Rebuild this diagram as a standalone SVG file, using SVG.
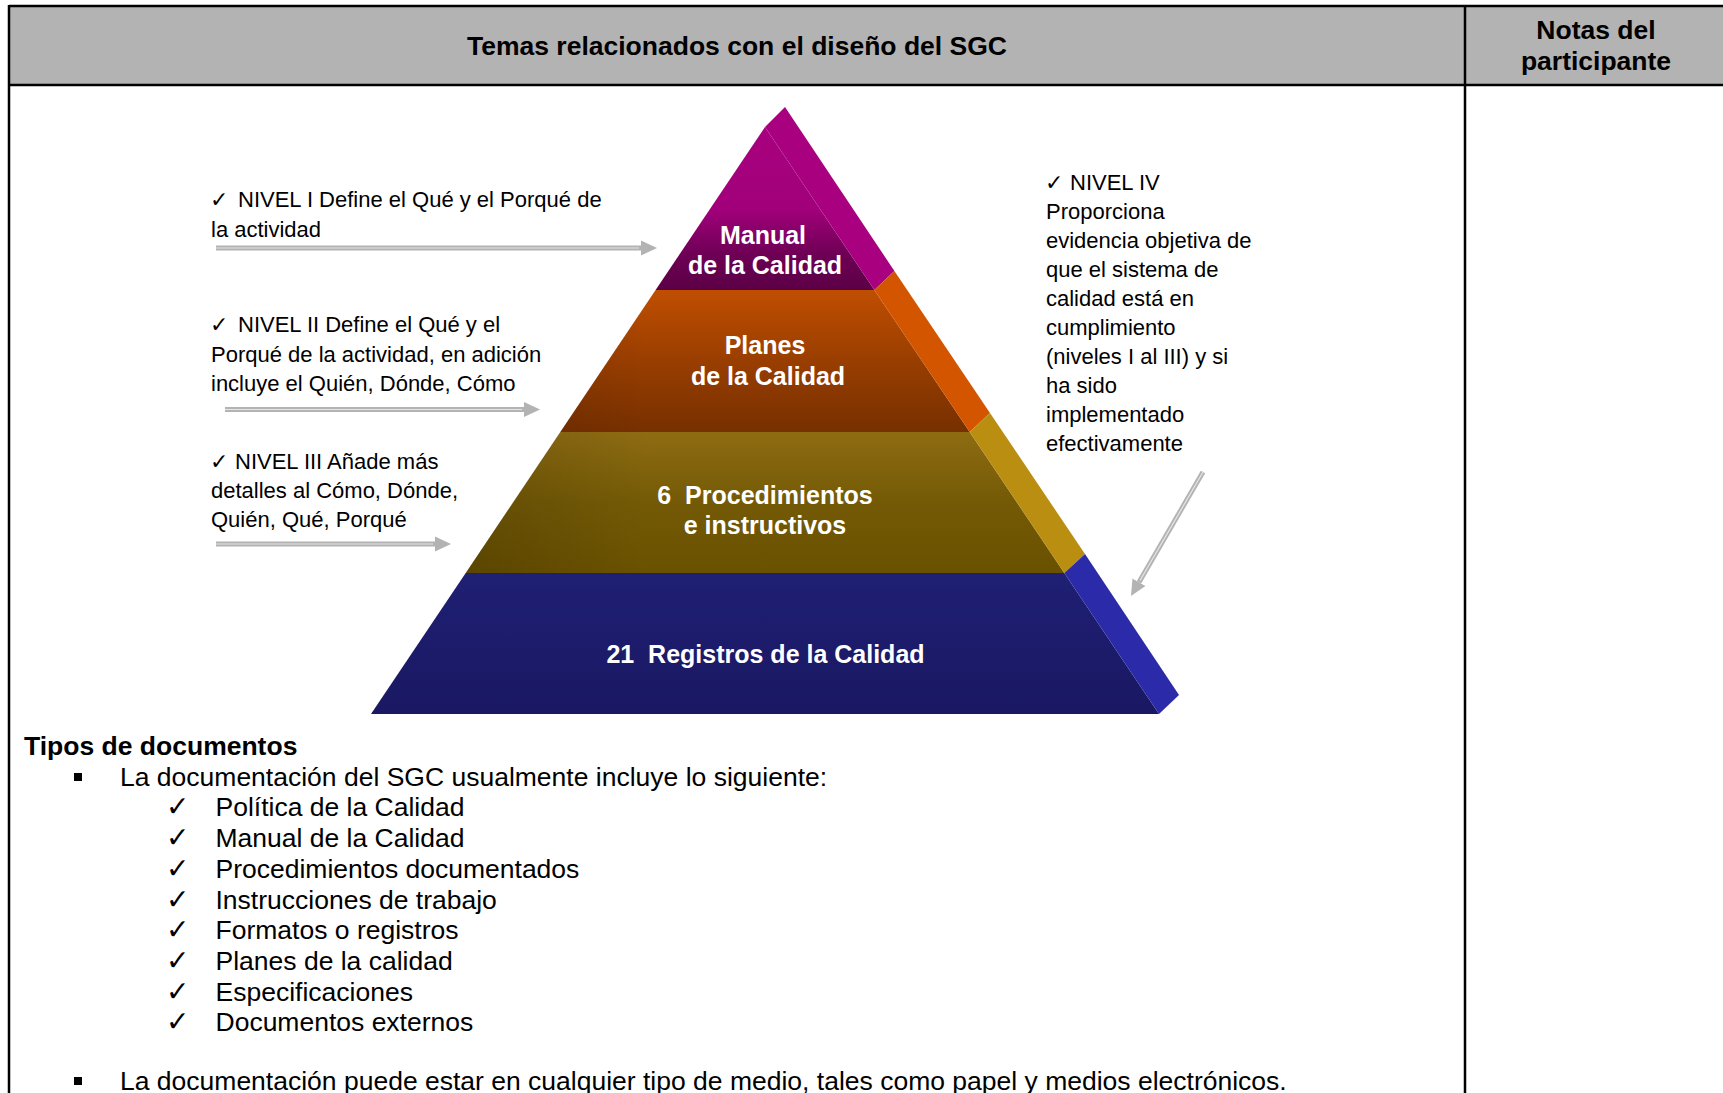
<svg xmlns="http://www.w3.org/2000/svg" width="1723" height="1093" viewBox="0 0 1723 1093">
<style>
.hd{font-family:"Liberation Sans",Arial,sans-serif;font-weight:bold;font-size:26.5px;fill:#000;text-anchor:middle}
.pt{font-family:"Liberation Sans",Arial,sans-serif;font-weight:bold;font-size:25px;fill:#fff;text-anchor:middle;white-space:pre}
.nt{font-family:"Liberation Sans",Arial,sans-serif;font-size:22px;fill:#000}
.ck{font-family:"DejaVu Sans",sans-serif;font-size:22px;fill:#000}
.ck2{font-family:"DejaVu Sans",sans-serif;font-size:28px;fill:#000}
.bt{font-family:"Liberation Sans",Arial,sans-serif;font-size:26.5px;fill:#000}
.bb{font-family:"Liberation Sans",Arial,sans-serif;font-size:26.5px;font-weight:bold;fill:#000}
.shaft{stroke:#b3b3b3;stroke-width:5;fill:none}
.inner{stroke:#e6e6e6;stroke-width:1.2;fill:none}
.ln{stroke:#000;stroke-width:2.5;fill:none}
</style>
<defs>
<marker id="ah" markerUnits="userSpaceOnUse" markerWidth="16" markerHeight="16" viewBox="0 0 16 16" refX="0" refY="8" orient="auto">
<path d="M0,0.5 L16,8 L0,15.5 z" fill="#b3b3b3"/>
</marker>
<linearGradient id="gP" x1="0" y1="127" x2="0" y2="290" gradientUnits="userSpaceOnUse">
<stop offset="0" stop-color="#a8007f"/><stop offset="0.5" stop-color="#a2007b"/><stop offset="0.78" stop-color="#6e0055"/><stop offset="1" stop-color="#5c0046"/>
</linearGradient>
<linearGradient id="gO" x1="0" y1="290" x2="0" y2="432" gradientUnits="userSpaceOnUse">
<stop offset="0" stop-color="#c04e00"/><stop offset="0.5" stop-color="#993e00"/><stop offset="1" stop-color="#773000"/>
</linearGradient>
<linearGradient id="gG" x1="0" y1="432" x2="0" y2="573" gradientUnits="userSpaceOnUse">
<stop offset="0" stop-color="#8e6c12"/><stop offset="0.5" stop-color="#745a06"/><stop offset="1" stop-color="#6a5100"/>
</linearGradient>
<linearGradient id="gB" x1="0" y1="573" x2="0" y2="714" gradientUnits="userSpaceOnUse">
<stop offset="0" stop-color="#1f1f74"/><stop offset="1" stop-color="#1a1862"/>
</linearGradient>
<linearGradient id="shade" x1="371" y1="0" x2="1159" y2="0" gradientUnits="userSpaceOnUse">
<stop offset="0" stop-color="#000" stop-opacity="0.22"/><stop offset="0.35" stop-color="#000" stop-opacity="0"/><stop offset="1" stop-color="#000" stop-opacity="0"/>
</linearGradient>
</defs>
<rect width="1723" height="1093" fill="#fff"/>
<g id="table">
<rect x="9" y="6" width="1720" height="79" fill="#b3b3b3"/>
<line class="ln" x1="9" y1="6" x2="1723" y2="6"/>
<line class="ln" x1="9" y1="85" x2="1723" y2="85"/>
<line class="ln" x1="9" y1="5" x2="9" y2="1093"/>
<line class="ln" x1="1465" y1="5" x2="1465" y2="1093"/>
<text class="hd" x="737" y="55">Temas relacionados con el diseño del SGC</text>
<text class="hd" x="1596" y="39">Notas del</text>
<text class="hd" x="1596" y="70">participante</text>
</g>
<g id="level1">
<polygon points="765,127 874.4,290 655.6,290" fill="url(#gP)"/>
<polygon points="765,127 785,107 894.4,271 874.4,290" fill="#a8007f"/>
<text class="pt" x="763" y="244">Manual</text>
<text class="pt" x="765" y="274">de la Calidad</text>
</g>
<g id="level2">
<polygon points="655.6,290 874.4,290 969.7,432 560.3,432" fill="url(#gO)"/>
<polygon points="655.6,290 874.4,290 969.7,432 560.3,432" fill="url(#shade)"/>
<polygon points="874.4,290 894.4,271 990,413 969.7,432" fill="#d45500"/>
<text class="pt" x="765" y="354">Planes</text>
<text class="pt" x="768" y="385">de la Calidad</text>
</g>
<g id="level3">
<polygon points="560.3,432 969.7,432 1064.3,573 465.7,573" fill="url(#gG)"/>
<polygon points="560.3,432 969.7,432 1064.3,573 465.7,573" fill="url(#shade)"/>
<polygon points="969.7,432 990,413 1085,554 1064.3,573" fill="#ba8e10"/>
<text class="pt" x="765" y="503.5" xml:space="preserve">6  Procedimientos</text>
<text class="pt" x="765" y="534">e instructivos</text>
</g>
<g id="level4">
<polygon points="465.7,573 1064.3,573 1159,714 371,714" fill="url(#gB)"/>
<polygon points="1064.3,573 1085,554 1179,695 1159,714" fill="#2b2baa"/>
<text class="pt" x="765.5" y="663" xml:space="preserve">21  Registros de la Calidad</text>
</g>
<g id="note1">
<text class="ck" x="210" y="207">✓</text>
<text class="nt" x="238" y="207">NIVEL I Define el Qué y el Porqué de</text>
<text class="nt" x="211" y="236.5">la actividad</text>
</g>
<g id="note2">
<text class="ck" x="210" y="332">✓</text>
<text class="nt" x="238" y="332">NIVEL II Define el Qué y el</text>
<text class="nt" x="211" y="362">Porqué de la actividad, en adición</text>
<text class="nt" x="211" y="391">incluye el Quién, Dónde, Cómo</text>
</g>
<g id="note3">
<text class="ck" x="210" y="468.5">✓</text>
<text class="nt" x="235" y="468.5">NIVEL III Añade más</text>
<text class="nt" x="211" y="497.5">detalles al Cómo, Dónde,</text>
<text class="nt" x="211" y="526.5">Quién, Qué, Porqué</text>
</g>
<g id="note4">
<text class="ck" x="1045" y="190">✓</text>
<text class="nt" x="1070" y="190">NIVEL IV</text>
<text class="nt" x="1046" y="219">Proporciona</text>
<text class="nt" x="1046" y="248">evidencia objetiva de</text>
<text class="nt" x="1046" y="277">que el sistema de</text>
<text class="nt" x="1046" y="306">calidad está en</text>
<text class="nt" x="1046" y="335">cumplimiento</text>
<text class="nt" x="1046" y="364">(niveles I al III) y si</text>
<text class="nt" x="1046" y="393">ha sido</text>
<text class="nt" x="1046" y="422">implementado</text>
<text class="nt" x="1046" y="451">efectivamente</text>
</g>
<g id="connectors">
<line class="shaft" x1="216" y1="248" x2="641" y2="248" marker-end="url(#ah)"/>
<line class="inner" x1="216" y1="248" x2="639" y2="248"/>
<line class="shaft" x1="225" y1="409.5" x2="524" y2="409.5" marker-end="url(#ah)"/>
<line class="inner" x1="225" y1="409.5" x2="522" y2="409.5"/>
<line class="shaft" x1="216" y1="544" x2="435" y2="544" marker-end="url(#ah)"/>
<line class="inner" x1="216" y1="544" x2="433" y2="544"/>
<line class="shaft" x1="1203" y1="472" x2="1139" y2="582.2" marker-end="url(#ah)"/>
<line class="inner" x1="1203" y1="472" x2="1140" y2="580.5"/>
</g>
<g id="list">
<text class="bb" x="24" y="755">Tipos de documentos</text>
<rect x="74" y="773" width="8" height="8" fill="#000"/>
<text class="bt" x="120" y="786">La documentación del SGC usualmente incluye lo siguiente:</text>
<g class="ck2">
<text x="166" y="816">✓</text>
<text x="166" y="847">✓</text>
<text x="166" y="878">✓</text>
<text x="166" y="908.5">✓</text>
<text x="166" y="939">✓</text>
<text x="166" y="970">✓</text>
<text x="166" y="1001">✓</text>
<text x="166" y="1031">✓</text>
</g>
<text class="bt" x="215.5" y="816">Política de la Calidad</text>
<text class="bt" x="215.5" y="847">Manual de la Calidad</text>
<text class="bt" x="215.5" y="878">Procedimientos documentados</text>
<text class="bt" x="215.5" y="908.5">Instrucciones de trabajo</text>
<text class="bt" x="215.5" y="939">Formatos o registros</text>
<text class="bt" x="215.5" y="970">Planes de la calidad</text>
<text class="bt" x="215.5" y="1001">Especificaciones</text>
<text class="bt" x="215.5" y="1031">Documentos externos</text>
<rect x="74" y="1077" width="8" height="8" fill="#000"/>
<text class="bt" x="120" y="1090">La documentación puede estar en cualquier tipo de medio, tales como papel y medios electrónicos.</text>
</g>
</svg>
